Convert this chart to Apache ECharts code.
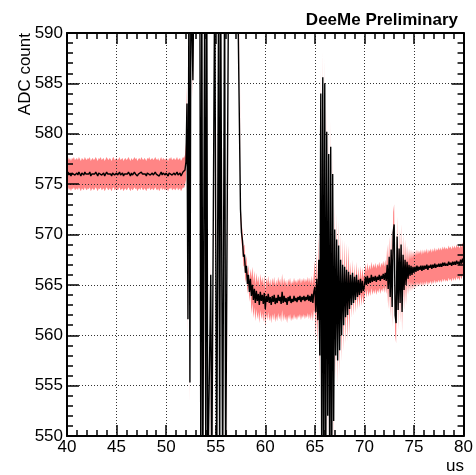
<!DOCTYPE html>
<html>
<head>
<meta charset="utf-8">
<script src="https://cdn.jsdelivr.net/npm/echarts@6/dist/echarts.min.js"></script>
<style>
  html, body { margin: 0; padding: 0; background: #fff; }
  #chart { width: 476px; height: 475px; }
</style>
</head>
<body>
<div id="chart"></div>
<script>
// Averaged waveform, one sample every 0.1 us starting at 40 us (ADC counts).
const sampleStart = 40.0;
const sampleStep = 0.1;

// 40.0 - 51.9 us: pedestal before the beam
const baselineAdc = [
  576.0, 576.2, 575.9, 576.1, 575.8, 576.1, 576.0, 576.2, 575.9, 576.0,
  576.1, 575.9, 576.2, 576.0, 575.8, 576.1, 576.0, 575.9, 576.2, 576.0,
  575.9, 576.1, 576.0, 576.2, 575.8, 576.0, 576.1, 575.9, 576.0, 576.2,
  576.0, 575.8, 576.1, 576.0, 576.2, 575.9, 576.0, 576.1, 575.8, 576.0,
  576.2, 576.0, 575.9, 576.1, 576.0, 575.8, 576.1, 576.2, 575.9, 576.0,
  576.1, 575.9, 576.0, 576.2, 575.9, 576.0, 576.1, 575.8, 576.0, 576.1,
  575.9, 576.0, 576.2, 576.0, 575.8, 576.1, 575.9, 576.0, 576.2, 576.0,
  576.1, 575.8, 576.0, 576.1, 575.9, 576.2, 576.0, 575.9, 576.1, 576.0,
  575.8, 576.1, 576.0, 576.2, 575.9, 576.0, 576.1, 575.9, 576.0, 576.2,
  576.0, 575.9, 576.1, 575.8, 576.0, 576.2, 575.9, 576.1, 576.0, 575.9,
  576.1, 576.0, 575.8, 576.1, 576.0, 576.2, 575.9, 576.0, 576.1, 575.9,
  576.0, 576.2, 575.9, 576.0, 576.1, 575.8, 576.0, 576.2, 576.1, 576.4
];

// 52.0 - 57.4 us: saturated ringing during the prompt flash
const ringingAdc = [
  577.2, 583.0, 561.6, 596.0, 555.3, 596.0, 596.0, 585.3, 596.0, 596.0,
  596.0, 596.0, 596.0, 596.0, 596.0, 545.0, 596.0, 545.0, 545.0, 596.0,
  545.0, 596.0, 545.0, 545.0, 545.0, 566.0, 545.0, 545.0, 545.0, 596.0,
  596.0, 545.0, 545.0, 596.0, 545.0, 596.0, 596.0, 545.0, 545.0, 596.0,
  545.0, 545.0, 545.0, 596.0, 596.0, 596.0, 596.0, 596.0, 596.0, 596.0,
  596.0, 596.0, 596.0, 596.0, 596.0
];

// 57.5 - 64.9 us: recovery towards the shifted baseline
const recoveryAdc = [
  572.5, 570.2, 569.4, 567.8, 568.0,
  566.2, 566.9, 565.1, 566.0, 564.3, 565.6, 563.9, 565.0, 563.5, 564.6,
  563.2, 564.4, 563.4, 564.1, 563.0, 564.3, 563.4, 564.0, 563.1, 564.2,
  562.6, 563.9, 563.3, 564.1, 563.2, 563.8, 563.0, 563.9, 563.3, 564.0,
  563.1, 563.7, 563.2, 564.0, 563.4, 563.8, 563.1, 564.3, 563.2, 563.9,
  563.3, 563.7, 563.0, 563.8, 563.4, 563.9, 563.2, 563.6, 563.3, 563.9,
  563.4, 563.7, 563.3, 563.8, 563.5, 563.9, 563.3, 563.8, 563.5, 563.9,
  563.4, 563.8, 563.5, 564.0, 563.4, 563.9, 563.3, 564.1, 563.2, 564.3
];

// 65.0 - 69.9 us: second burst
const burstAdc = [
  564.8, 562.3, 565.6, 561.5, 567.5, 558.0, 584.0, 545.0, 585.6, 545.0,
  585.0, 545.0, 580.2, 552.0, 578.0, 545.0, 578.7, 545.0, 576.0, 551.5,
  570.5, 558.0, 569.5, 557.5, 568.9, 558.5, 567.5, 560.0, 567.0, 561.0,
  566.8, 561.8, 566.5, 562.0, 566.3, 562.6, 566.0, 563.0, 566.2, 563.2,
  565.8, 563.5, 566.0, 563.8, 565.5, 564.0, 565.6, 564.2, 565.4, 564.4
];

// 70.0 - 80.0 us: slow drift with a small burst near 73 us
const tailAdc = [
  564.9, 565.8, 565.0, 565.9, 565.1, 565.7, 565.2, 566.0, 565.3, 565.8,
  565.4, 565.9, 565.3, 565.8, 565.5, 566.0, 565.4, 565.9, 565.6, 566.1,
  565.5, 566.2, 565.4, 567.0, 564.6, 567.8, 563.8, 568.5, 562.8, 570.2,
  571.0, 562.0, 561.2, 569.8, 562.5, 568.6, 563.2, 569.0, 562.3, 568.0,
  564.5, 567.5, 565.0, 567.3, 565.6, 567.0, 565.9, 566.9, 566.0, 566.8,
  566.2, 566.8, 566.3, 566.9, 566.4, 566.8, 566.5, 566.9, 566.4, 566.9,
  566.5, 566.9, 566.6, 567.0, 566.5, 566.9, 566.7, 567.0, 566.6, 567.0,
  566.7, 567.1, 566.7, 567.0, 566.8, 567.1, 566.8, 567.1, 566.8, 567.2,
  566.9, 567.2, 566.9, 567.1, 566.9, 567.3, 567.0, 567.2, 566.9, 567.3,
  567.0, 567.3, 567.0, 567.4, 567.1, 567.3, 567.0, 567.5, 567.1, 567.6,
  567.2
];

// Spread (half width of the red band) per time window, in ADC counts
const spreadFrom = [40.0, 52.0, 57.5, 58.6, 65.0, 68.6, 72.3, 74.3];
const spreadHalf = [1.5, 1.8, 1.0, 1.8, 2.6, 1.3, 2.0, 1.6];

// Axis ranges and tick labels
const xTicks = [40, 45, 50, 55, 60, 65, 70, 75, 80];
const yTicks = [550, 555, 560, 565, 570, 575, 580, 585, 590];

const adc = [].concat(baselineAdc, ringingAdc, recoveryAdc, burstAdc, tailAdc);
const times = adc.map((_, i) => +(sampleStart + i * sampleStep).toFixed(1));

function spreadAt(t) {
  let h = spreadHalf[0];
  for (let k = 0; k < spreadFrom.length; k++) {
    if (t >= spreadFrom[k] - 1e-9) h = spreadHalf[k];
  }
  return h;
}

const tracePoints = times.map((t, i) => [t, adc[i]]);
// [time, low edge, high edge] of the spread band
const bandRows = times.map((t, i) => [t, adc[i] - spreadAt(t), adc[i] + spreadAt(t)]);

const FONT = 'Liberation Sans, Arial, Helvetica, sans-serif';

function axisCommon(min, max, step, tickLen, showLabels, showGrid, z) {
  return {
    type: 'value',
    min: min,
    max: max,
    interval: step,
    z: z,
    axisLine: { show: true, onZero: false, lineStyle: { color: '#000', width: 2 } },
    axisTick: { show: true, inside: true, length: tickLen, lineStyle: { color: '#000', width: 1.5 } },
    minorTick: { show: true, splitNumber: 5, length: Math.round(tickLen / 2), lineStyle: { color: '#000', width: 1.5 } },
    axisLabel: {
      show: showLabels,
      color: '#000',
      fontSize: 17,
      fontFamily: FONT,
      showMinLabel: true,
      showMaxLabel: true
    },
    splitLine: { show: showGrid, lineStyle: { color: '#333', width: 1, type: [1, 2] } },
    minorSplitLine: { show: false }
  };
}

// Dotted grid sits above the red band but below the black trace
const xBottom = axisCommon(xTicks[0], xTicks[xTicks.length - 1], 5, 11, true, true, 2);
xBottom.position = 'bottom';
xBottom.axisLabel.margin = 3;
const xTop = axisCommon(xTicks[0], xTicks[xTicks.length - 1], 5, 11, false, false, 2);
xTop.position = 'top';

const yLeft = axisCommon(yTicks[0], yTicks[yTicks.length - 1], 5, 12, true, true, 2);
yLeft.position = 'left';
yLeft.axisLabel.margin = 4;
const yRight = axisCommon(yTicks[0], yTicks[yTicks.length - 1], 5, 12, false, false, 2);
yRight.position = 'right';

// The whole band is one polygon: upper edge left to right, lower edge back.
function renderBand(params, api) {
  if (params.dataIndex !== 0) return null;
  const upper = [];
  const lower = [];
  for (let i = 0; i < bandRows.length; i++) {
    upper.push(api.coord([bandRows[i][0], bandRows[i][2]]));
    lower.push(api.coord([bandRows[i][0], bandRows[i][1]]));
  }
  const pts = upper.concat(lower.reverse());
  return {
    type: 'polygon',
    shape: { points: pts },
    style: { fill: '#ff8585', stroke: null }
  };
}

const chart = echarts.init(document.getElementById('chart'), null, { renderer: 'canvas' });
chart.setOption({
  animation: false,
  backgroundColor: '#fff',
  grid: { left: 67, right: 12, top: 33, bottom: 39 },
  xAxis: [xBottom, xTop],
  yAxis: [yLeft, yRight],
  series: [
    {
      name: 'spread',
      type: 'custom',
      data: bandRows,
      encode: { x: 0, y: [1, 2] },
      renderItem: renderBand,
      silent: true,
      clip: true,
      z: 0
    },
    {
      name: 'mean',
      type: 'line',
      data: tracePoints,
      symbol: 'none',
      sampling: 'none',
      silent: true,
      z: 3,
      clip: true,
      lineStyle: { color: '#000', width: 1.4 }
    }
  ],
  graphic: [
    {
      type: 'text',
      x: 458, y: 20,
      style: { text: 'DeeMe Preliminary', fill: '#000', font: 'bold 17px ' + FONT, align: 'right', verticalAlign: 'middle' }
    },
    {
      type: 'text',
      x: 25, y: 33, rotation: Math.PI / 2,
      style: { text: 'ADC count', fill: '#000', font: '17px ' + FONT, align: 'right', verticalAlign: 'middle' }
    },
    {
      type: 'text',
      x: 464, y: 466,
      style: { text: 'us', fill: '#000', font: '17px ' + FONT, align: 'right', verticalAlign: 'middle' }
    }
  ]
});
</script>
</body>
</html>
